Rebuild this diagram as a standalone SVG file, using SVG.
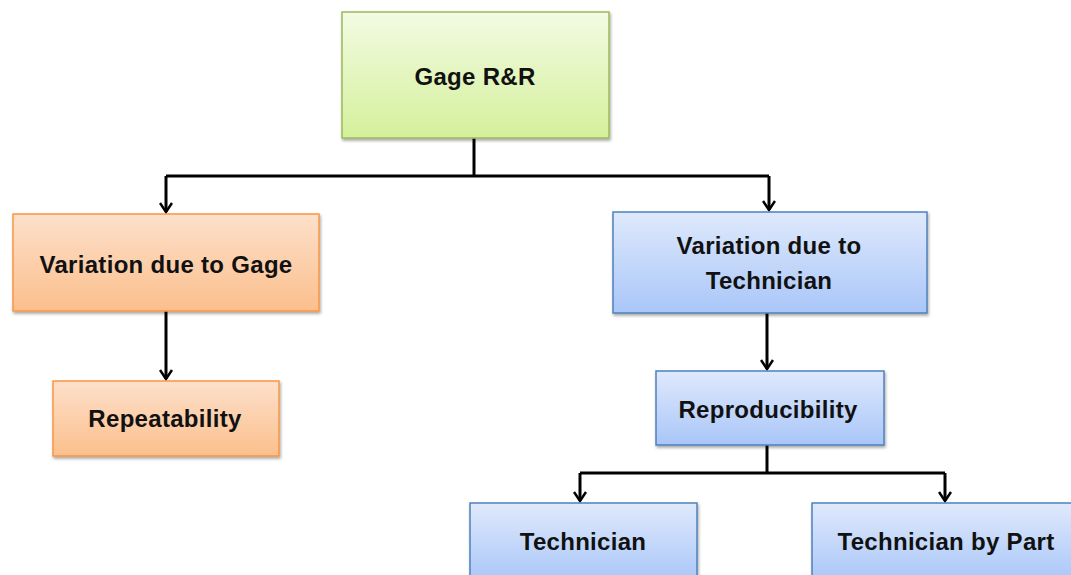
<svg xmlns="http://www.w3.org/2000/svg" width="1071" height="575" viewBox="0 0 1071 575">
<style>
text{font-family:"Liberation Sans",Arial,sans-serif;font-weight:bold;font-size:24px;letter-spacing:0.3px;fill:#111;text-anchor:middle;dominant-baseline:central}
.g{fill:url(#gg);stroke:#9bbb59;stroke-width:1.5}
.o{fill:url(#go);stroke:#f79646;stroke-width:1.5}
.b{fill:url(#gb);stroke:#4f81bd;stroke-width:1.5}
.c{fill:none;stroke:#000;stroke-width:3}
</style>
<defs>
<linearGradient id="gg" x1="0" y1="0" x2="0" y2="1"><stop offset="0" stop-color="#f3fbe3"/><stop offset="1" stop-color="#d4f09b"/></linearGradient>
<linearGradient id="go" x1="0" y1="0" x2="0" y2="1"><stop offset="0" stop-color="#fde0cb"/><stop offset="1" stop-color="#fbbf8c"/></linearGradient>
<linearGradient id="gb" x1="0" y1="0" x2="0" y2="1"><stop offset="0" stop-color="#dfe9fc"/><stop offset="1" stop-color="#a9c6f8"/></linearGradient>
<filter id="sh" x="-10%" y="-10%" width="120%" height="130%"><feDropShadow dx="1" dy="2" stdDeviation="1.5" flood-color="#000" flood-opacity="0.35"/></filter>
<marker id="ar" markerWidth="12" markerHeight="14" refX="10" refY="7" orient="auto" markerUnits="userSpaceOnUse" viewBox="0 0 12 14"><path d="M1,1 L10,7 L1,13" fill="none" stroke="#000" stroke-width="2.5"/></marker>
</defs>
<g id="connectors">
<path class="c" d="M474,138 V176"/>
<path class="c" d="M166,176 H769"/>
<path class="c" d="M166,176 V212" marker-end="url(#ar)"/>
<path class="c" d="M769,176 V210" marker-end="url(#ar)"/>
<path class="c" d="M166,311 V379" marker-end="url(#ar)"/>
<path class="c" d="M767,313 V369" marker-end="url(#ar)"/>
<path class="c" d="M767,445 V473"/>
<path class="c" d="M580,473 H945"/>
<path class="c" d="M580,473 V501" marker-end="url(#ar)"/>
<path class="c" d="M945,473 V501" marker-end="url(#ar)"/>
</g>
<g id="n1"><rect class="g" x="342" y="12" width="267" height="126" filter="url(#sh)"/><text x="475" y="76">Gage R&amp;R</text></g>
<g id="n2"><rect class="o" x="13" y="214" width="306" height="97" filter="url(#sh)"/><text x="166" y="264">Variation due to Gage</text></g>
<g id="n3"><rect class="o" x="53" y="381" width="226" height="75" filter="url(#sh)"/><text x="165" y="418">Repeatability</text></g>
<g id="n4"><rect class="b" x="613" y="212" width="314" height="101" filter="url(#sh)"/><text x="769" y="245">Variation due to</text><text x="769" y="280">Technician</text></g>
<g id="n5"><rect class="b" x="656" y="371" width="228" height="74" filter="url(#sh)"/><text x="768" y="409">Reproducibility</text></g>
<g id="n6"><rect class="b" x="470" y="503" width="227" height="80" filter="url(#sh)"/><text x="583" y="541">Technician</text></g>
<g id="n7"><rect class="b" x="812" y="503" width="270" height="80" filter="url(#sh)"/><text x="946" y="541">Technician by Part</text></g>
</svg>
